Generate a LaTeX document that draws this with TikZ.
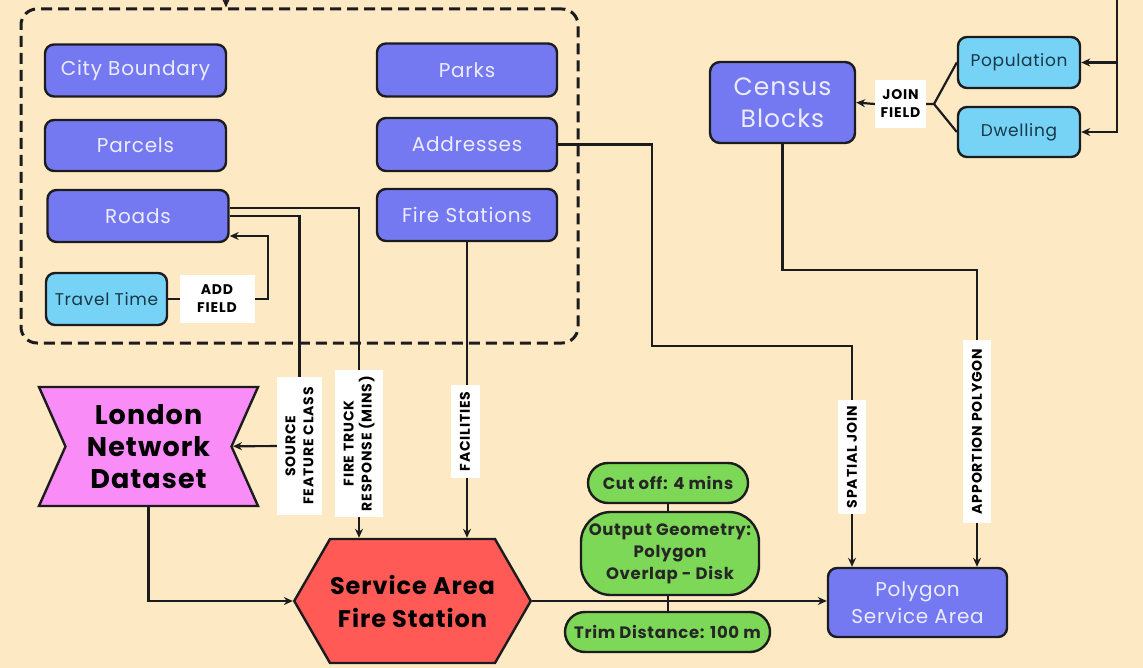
\documentclass[tikz,border=0pt]{standalone}
\usepackage{fontspec}
\setmainfont{Poppins}
\newfontfamily\wf[LetterSpace=4]{Poppins}
\newfontfamily\bwf[LetterSpace=4]{Poppins Bold}
\newfontfamily\lwf[LetterSpace=6]{Poppins Bold}
\usetikzlibrary{arrows.meta,shapes.symbols,calc}
\definecolor{bgc}{RGB}{253,234,196}
\definecolor{bluec}{RGB}{116,121,242}
\definecolor{lbluec}{RGB}{118,211,245}
\definecolor{pinkc}{RGB}{249,140,246}
\definecolor{redc}{RGB}{255,90,86}
\definecolor{greenc}{RGB}{126,216,87}
\definecolor{linec}{RGB}{28,28,30}
\definecolor{wtxt}{RGB}{236,236,255}
\definecolor{dtxt}{RGB}{25,55,70}
\pgfdeclarelayer{back}
\pgfdeclarelayer{bg}
\pgfsetlayers{back,bg,main}
\begin{document}
\begin{tikzpicture}[x=1pt,y=-1pt,
  box/.style={draw=linec, line width=2.4pt, rounded corners=9pt, inner sep=0pt, align=center},
  bluebox/.style={box, fill=bluec, text=wtxt, font=\wf\fontsize{20}{24}\selectfont},
  lbox/.style={box, fill=lbluec, text=dtxt, font=\wf\fontsize{17}{20}\selectfont},
  greenbox/.style={box, fill=greenc, text=black!85, font=\bwf\fontsize{16.5}{22}\selectfont},
  lab/.style={fill=white, inner sep=0pt, align=center, font=\lwf\fontsize{14}{18}\selectfont},
  vlab/.style={lab, rotate=90},
  conn/.style={draw=linec, line width=2.2pt},
  arr/.style={conn, -{Stealth[length=9pt,width=8pt]}}]
\useasboundingbox (0,0) rectangle (1143,668);
\begin{pgfonlayer}{back}
\fill[bgc] (0,0) rectangle (1143,668);
\end{pgfonlayer}

% container
\node[draw=linec, line width=3pt, dash pattern=on 11pt off 6pt, rounded corners=16pt,
      minimum width=557pt, minimum height=334pt] (cont) at (299.5,176) {};

% blue boxes
\node[bluebox, minimum width=181pt, minimum height=52pt] (city) at (135.5,70.5) {City Boundary};
\node[bluebox, minimum width=181pt, minimum height=51pt] (parcels) at (135.5,145.5) {Parcels};
\node[bluebox, minimum width=181pt, minimum height=52pt] (roads) at (138,216) {Roads};
\node[bluebox, minimum width=180pt, minimum height=53pt] (parks) at (467,70) {Parks};
\node[bluebox, minimum width=180pt, minimum height=53pt] (addr) at (467,144.5) {Addresses};
\node[bluebox, minimum width=180pt, minimum height=52pt] (fs) at (467,215) {Fire Stations};
\node[lbox, minimum width=121pt, minimum height=52pt] (tt) at (106.5,299) {Travel Time};
\node[lab, minimum width=75pt, minimum height=48pt] (addf) at (217,299) {ADD\\FIELD};

\node[bluebox, minimum width=145pt, minimum height=81pt, rounded corners=10pt,
      font=\wf\fontsize{25}{32}\selectfont] (census) at (782.5,102.5) {Census\\Blocks};
\node[lab, minimum width=51pt, minimum height=48pt] (jf) at (900.5,104) {JOIN\\FIELD};
\node[lbox, minimum width=122pt, minimum height=51pt] (pop) at (1019,62.5) {Population};
\node[lbox, minimum width=122pt, minimum height=50pt] (dw) at (1019,132) {Dwelling};

% London network dataset
\node[shape=signal, signal to=nowhere, signal from=west and east, signal pointer angle=132,
      draw=linec, line width=2.4pt, fill=pinkc, minimum width=219pt, minimum height=119pt,
      inner sep=0pt, align=center, font=\bwf\fontsize{27}{32}\selectfont] (lnd) at (148.5,446.5)
      {London\\Network\\Dataset};

% service area
\node[shape=signal, signal to=west and east, signal from=nowhere, signal pointer angle=120,
      draw=linec, line width=2.4pt, fill=redc, minimum width=221pt, minimum height=124pt,
      inner sep=0pt, align=center, font=\bwf\fontsize{24}{33}\selectfont] (svc) at (412.5,601)
      {Service Area\\Fire Station};

% green boxes
\node[greenbox, rounded corners=20pt, minimum width=160pt, minimum height=40pt] (cut) at (668,483) {Cut off: 4 mins};
\node[greenbox, rounded corners=30pt, minimum width=178pt, minimum height=83pt] (og) at (670,553.5) {Output Geometry:\\Polygon\\Overlap - Disk};
\node[greenbox, rounded corners=20pt, minimum width=205pt, minimum height=40pt] (trim) at (667.5,632) {Trim Distance: 100 m};

\node[bluebox, minimum width=179pt, minimum height=69pt, font=\wf\fontsize{20}{27}\selectfont] (psa) at (917.5,602.5) {Polygon\\Service Area};

% vertical labels
\node[vlab, minimum width=138pt, minimum height=45pt] (sfc) at (299.5,446) {SOURCE\\FEATURE CLASS};
\node[vlab, minimum width=147pt, minimum height=48pt] (ftr) at (359,443.5) {FIRE TRUCK\\RESPONSE (MINS)};
\node[vlab, minimum width=93pt, minimum height=29pt] (fac) at (465,431.5) {FACILITIES};
\node[vlab, minimum width=114pt, minimum height=28pt] (sjl) at (852,457) {SPATIAL JOIN};
\node[vlab, minimum width=183pt, minimum height=28pt] (apl) at (977,431.5) {APPORTION POLYGON};

% coordinates
\coordinate (topin) at (226,-3);
\coordinate (ttc) at (268,299);
\coordinate (fk) at (934,104);
\coordinate (rtop) at (1117,-3);
\coordinate (a1) at (652,346);
\coordinate (c1) at (977,270);

\begin{pgfonlayer}{bg}
\draw[arr] (topin) -- (topin |- cont.north);
\draw[arr] (tt.east) -- (ttc) |- ([yshift=-20pt]roads.east);
\draw[conn] (roads.east) -| (sfc.center);
\draw[arr] (sfc.center) -- (lnd);
\draw[arr] ([yshift=8pt]roads.east) -| (ftr.center) -- (ftr.center |- svc.north);
\draw[arr] (fs.south) -- (fs.south |- svc.north);
\draw[arr] (lnd.south) |- (svc.west);
\draw[arr] (svc.east) -- (svc.east -| psa.west);
\draw[arr] (addr.east) -| (a1) -| (sjl.center) -- (sjl.center |- psa.north);
\draw[arr] (census.south) |- (c1) -- (c1 |- psa.north);
\draw[arr] (jf.west) -- (census.east);
\draw[conn] (jf.east) -- (fk) -- (pop.west);
\draw[conn] (fk) -- (dw.west);
\draw[arr] (rtop) |- (dw.east);
\draw[arr] (rtop |- pop.east) -- (pop.east);
\draw[conn] (cut.south) -- (cut.south |- og.north);
\draw[conn] (cut.south |- og.south) -- (cut.south |- trim.north);
\end{pgfonlayer}
\end{tikzpicture}
\end{document}
